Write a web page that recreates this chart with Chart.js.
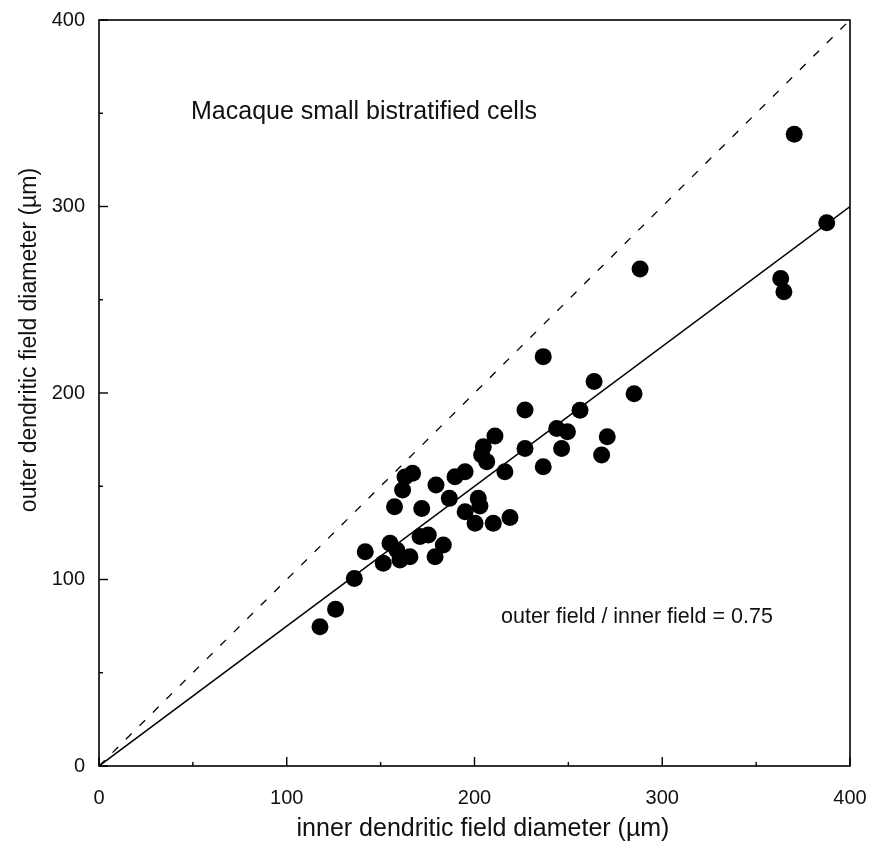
<!DOCTYPE html>
<html>
<head>
<meta charset="utf-8">
<script src="https://cdn.jsdelivr.net/npm/chart.js@4.4.1/dist/chart.umd.min.js"></script>
<style>
  html, body { margin: 0; padding: 0; background: #fff; }
  #wrap { width: 870px; height: 841px; }
</style>
</head>
<body>
<div id="wrap"><canvas id="cells" width="870" height="841"></canvas></div>
<script>
// inner vs outer dendritic field diameter (µm)
const innerField = [
  117.7, 126, 136, 141.8, 151.4, 155, 158.6, 160.3, 165.6, 171, 175.4, 179, 183.4,
  157.4, 161.7, 163, 167, 171.9, 179.5, 186.6, 189.6, 195, 195, 200.3, 202, 202.9,
  203.8, 204.7, 206.5, 210.9, 210, 216.2, 218.9, 226.9, 226.9, 236.6, 236.6, 243.8,
  249.5, 246.4, 256.2, 263.7, 267.7, 270.7, 285, 288.2, 363.1, 364.8, 370.3, 387.6
];
const outerField = [
  74.7, 84, 100.5, 114.9, 108.7, 119.4, 115.8, 110.5, 112.2, 123, 123.9, 112.2, 118.5,
  139, 148, 155, 157, 138.1, 150.7, 143.5, 155.1, 157.8, 136.3, 130.1, 143.5, 139.4,
  166.8, 171.2, 163.2, 176.9, 130.1, 157.8, 133.3, 190.9, 170.3, 219.5, 160.5, 181,
  179.2, 170.3, 190.7, 206.2, 166.8, 176.6, 199.6, 266.5, 261.4, 254.3, 338.7, 291.3
];

// reference lines
const unityX = [0, 400];
const unityY = [0, 400];
const fitX = [0, 400];
const fitY = [0, 300];

const axisTicks = [0, 100, 200, 300, 400];
const minorTicks = [50, 150, 250, 350];

const titleText = "Macaque small bistratified cells";
const ratioText = "outer field / inner field = 0.75";
const xTitle = "inner dendritic field diameter (µm)";
const yTitle = "outer dendritic field diameter (µm)";

const FONT = "'Liberation Sans', Arial, Helvetica, sans-serif";

const toPts = (xs, ys) => xs.map((x, i) => ({ x: x, y: ys[i] }));

// box, inward ticks and the loose text
const frame = {
  id: 'frame',
  afterDraw(chart) {
    const ctx = chart.ctx;
    const a = chart.chartArea;
    const xs = chart.scales.x, ys = chart.scales.y;
    ctx.save();
    ctx.strokeStyle = '#000';
    ctx.lineWidth = 1.6;
    ctx.strokeRect(a.left, a.top, a.right - a.left, a.bottom - a.top);

    ctx.lineWidth = 1.4;
    const tick = (v, len) => {
      const px = xs.getPixelForValue(v);
      ctx.beginPath(); ctx.moveTo(px, a.bottom); ctx.lineTo(px, a.bottom - len); ctx.stroke();
      const py = ys.getPixelForValue(v);
      ctx.beginPath(); ctx.moveTo(a.left, py); ctx.lineTo(a.left + len, py); ctx.stroke();
    };
    axisTicks.forEach(v => tick(v, 9));
    minorTicks.forEach(v => tick(v, 4));

    ctx.fillStyle = '#111';
    ctx.textBaseline = 'middle';
    ctx.font = '25px ' + FONT;
    ctx.textAlign = 'left';
    ctx.fillText(titleText, 191, 112);

    ctx.font = '21.5px ' + FONT;
    ctx.fillText(ratioText, 501, 617);

    ctx.font = '25px ' + FONT;
    ctx.textAlign = 'center';
    ctx.fillText(xTitle, 483, 829);

    ctx.font = '23px ' + FONT;
    ctx.translate(30, 340);
    ctx.rotate(-Math.PI / 2);
    ctx.fillText(yTitle, 0, 0);
    ctx.restore();
  }
};

new Chart(document.getElementById('cells'), {
  type: 'scatter',
  data: {
    datasets: [
      {
        data: toPts(innerField, outerField),
        pointRadius: 8.5,
        pointHoverRadius: 8.5,
        pointBackgroundColor: '#000',
        pointBorderWidth: 0,
        order: 0
      },
      {
        data: toPts(unityX, unityY),
        showLine: true,
        borderColor: '#000',
        borderWidth: 1.3,
        borderDash: [8, 11],
        pointRadius: 0,
        order: 1
      },
      {
        data: toPts(fitX, fitY),
        showLine: true,
        borderColor: '#000',
        borderWidth: 1.5,
        pointRadius: 0,
        order: 1
      }
    ]
  },
  options: {
    responsive: false,
    animation: false,
    layout: { padding: { top: 20, right: 20, left: 0, bottom: 0 } },
    plugins: { legend: { display: false }, tooltip: { enabled: false } },
    scales: {
      x: {
        type: 'linear', min: 0, max: 400,
        afterFit(s) { s.height = 75; s.paddingLeft = 0; s.paddingRight = 0; },
        grid: { display: false, drawTicks: false },
        border: { display: false },
        ticks: { stepSize: 100, padding: 20, color: '#111', font: { family: FONT, size: 20 } }
      },
      y: {
        type: 'linear', min: 0, max: 400,
        afterFit(s) { s.width = 99; s.paddingTop = 0; s.paddingBottom = 0; },
        grid: { display: false, drawTicks: false },
        border: { display: false },
        ticks: { stepSize: 100, padding: 14, color: '#111', font: { family: FONT, size: 20 } }
      }
    }
  },
  plugins: [frame]
});
</script>
</body>
</html>
